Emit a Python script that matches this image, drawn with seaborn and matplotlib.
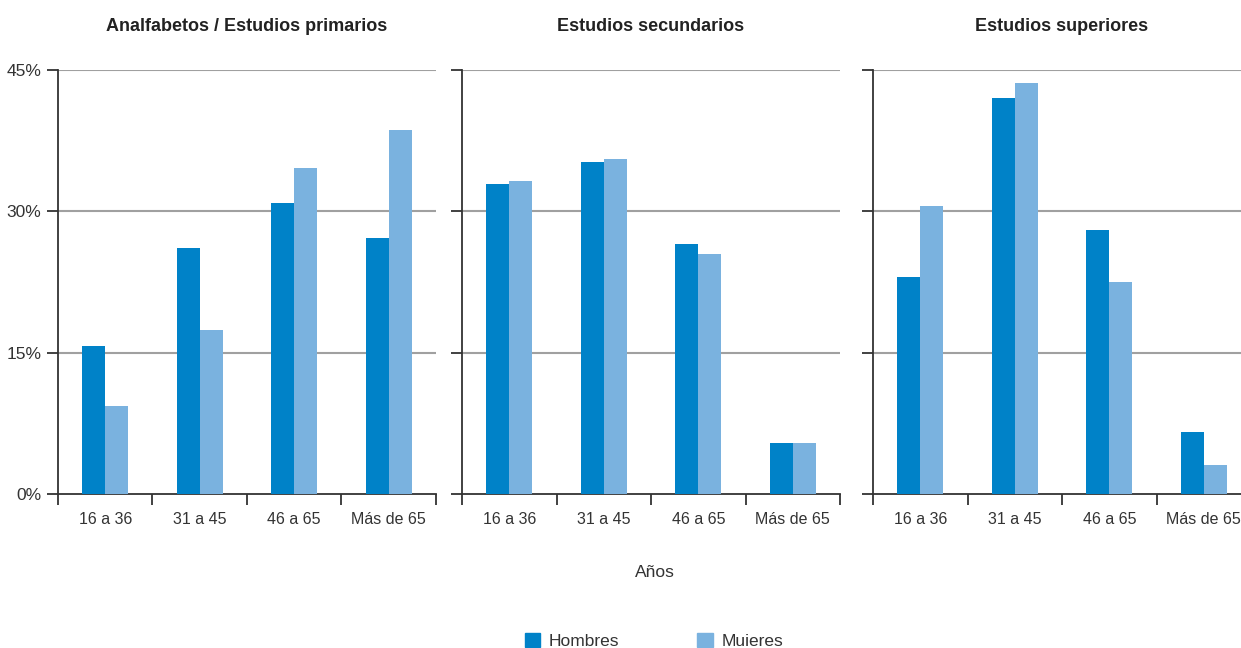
import pandas as pd
import seaborn as sns
import matplotlib.pyplot as plt
from matplotlib.patches import Patch

sns.set_style("ticks")
plt.rcParams['font.family'] = ['Liberation Sans', 'DejaVu Sans']

grupos = ["16 a 36", "31 a 45", "46 a 65", "Más de 65"]
paneles = ["Analfabetos / Estudios primarios", "Estudios secundarios", "Estudios superiores"]
hombres = [
    [15.7, 26.1, 30.9, 27.2],
    [32.9, 35.2, 26.5, 5.4],
    [23.0, 42.0, 28.0, 6.6],
]
mujeres = [
    [9.3, 17.4, 34.6, 38.6],
    [33.2, 35.6, 25.5, 5.4],
    [30.6, 43.6, 22.5, 3.1],
]
colores = {"Hombres": "#0082C8", "Muieres": "#7AB2DF"}

fig = plt.figure(figsize=(12.41, 6.48), dpi=100)
lefts = [0.0467, 0.3723, 0.7035]
w = 0.3046

for i, titulo in enumerate(paneles):
    ax = fig.add_axes([lefts[i], 0.2377, w, 0.6543])
    df = pd.DataFrame({
        "grupo": grupos * 2,
        "valor": hombres[i] + mujeres[i],
        "sexo": ["Hombres"] * 4 + ["Muieres"] * 4,
    })
    sns.barplot(data=df, x="grupo", y="valor", hue="sexo", palette=colores,
                width=0.49, saturation=1, linewidth=0, ax=ax, legend=False, zorder=3)
    ax.set_ylim(0, 45)
    ax.set_xlim(-0.5, 3.5)
    ax.set_yticks([0, 15, 30, 45])
    if i == 0:
        ax.set_yticklabels(["0%", "15%", "30%", "45%"], fontsize=12.5, color="#333333")
    else:
        ax.set_yticklabels([])
    for y in [15, 30, 45]:
        ax.axhline(y, color="#A0A0A0", lw=1.5, zorder=1)
    ax.set_xticks([-0.5, 0.5, 1.5, 2.5, 3.5])
    ax.set_xticklabels([])
    ax.set_xticks(range(4), minor=True)
    ax.set_xticklabels(grupos, minor=True, fontsize=11.5, color="#333333")
    ax.tick_params(axis="x", which="major", bottom=True, length=8, width=1.3,
                   color="#333333", direction="out")
    ax.tick_params(axis="x", which="minor", bottom=True, length=0, pad=13)
    ax.tick_params(axis="y", left=True, length=8, width=1.3, color="#333333",
                   direction="out", pad=4)
    ax.set_xlabel("")
    ax.set_ylabel("")
    for s in ["top", "right"]:
        ax.spines[s].set_visible(False)
    for s in ["left", "bottom"]:
        ax.spines[s].set_color("#333333")
        ax.spines[s].set_linewidth(1.3)
    ax.set_title(titulo, fontsize=13, fontweight="bold", color="#222222", pad=28)

fig.text(0.528, 0.116, "Años", ha="center", va="center", fontsize=12.5, color="#333333")
handles = [Patch(color=colores[k]) for k in colores]
fig.legend(handles, list(colores), loc="center", bbox_to_anchor=(0.527, 0.011),
           ncol=2, frameon=False, fontsize=12.5, handlelength=0.9, handleheight=0.9,
           columnspacing=4.5, handletextpad=0.5, labelcolor="#333333")

fig.savefig("out.png", dpi=100)
